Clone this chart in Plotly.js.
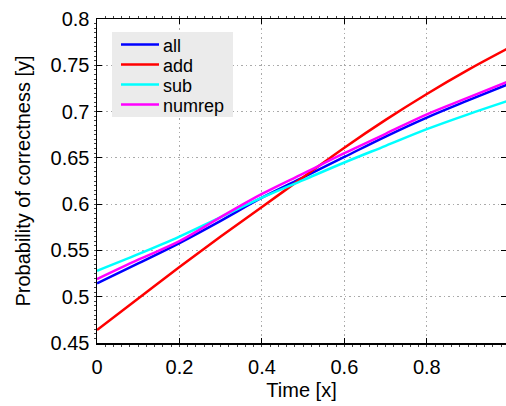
<!DOCTYPE html>
<html>
<head>
<meta charset="utf-8">
<script src="https://cdn.plot.ly/plotly-3.0.1.min.js"></script>
<style>html,body{margin:0;padding:0;background:#fff;}#chart{width:506px;height:406px;}</style>
</head>
<body>
<div id="chart"></div>
<script>
const timeX = [0, 0.1, 0.2, 0.3, 0.4, 0.5, 0.6, 0.7, 0.8, 0.9, 1.0];
const allY    = [0.5145, 0.536, 0.558, 0.582, 0.607, 0.629, 0.651, 0.673, 0.6935, 0.712, 0.730];
const addY    = [0.464, 0.498, 0.532, 0.565, 0.597, 0.629, 0.661, 0.691, 0.719, 0.745, 0.769];
const subY    = [0.528, 0.546, 0.565, 0.586, 0.607, 0.626, 0.645, 0.663, 0.681, 0.697, 0.712];
const numrepY = [0.519, 0.540, 0.560, 0.586, 0.611, 0.633, 0.655, 0.676, 0.697, 0.715, 0.733];
const xTicks = [0, 0.2, 0.4, 0.6, 0.8, 1];
const xTickText = ['0', '0.2', '0.4', '0.6', '0.8', '1'];
const yTicks = [0.45, 0.5, 0.55, 0.6, 0.65, 0.7, 0.75, 0.8];
const yTickText = ['0.45', '0.5', '0.55', '0.6', '0.65', '0.7', '0.75', '0.8'];
const seriesNames = ['all', 'add', 'sub', 'numrep'];
const seriesColors = ['#0000ff', '#ff0000', '#00ffff', '#ff00ff'];
const seriesData = [allY, addY, subY, numrepY];

const FONT = 'Liberation Sans, Arial, Helvetica, sans-serif';

const traces = seriesData.map((ys, i) => ({
  x: timeX, y: ys, type: 'scatter', mode: 'lines', name: seriesNames[i],
  line: {color: seriesColors[i], width: 2.5, shape: 'spline'}
}));

const axisCommon = {
  showline: true, linecolor: '#000', linewidth: 1.5, mirror: 'ticks',
  ticks: 'inside', ticklen: 5, tickcolor: '#000', tickwidth: 1,
  showgrid: true, gridcolor: '#aaaaaa', griddash: '1.5px,3px', gridwidth: 1,
  zeroline: false,
  tickfont: {family: FONT, size: 20, color: '#000'}
};

const layout = {
  width: 506, height: 406,
  margin: {l: 97, r: 0, t: 19, b: 63},
  paper_bgcolor: '#fff', plot_bgcolor: '#fff',
  font: {family: FONT, size: 20, color: '#000'},
  showlegend: true,
  legend: {x: 0.037, y: 0.96, xanchor: 'left', yanchor: 'top', bgcolor: '#ebebeb',
           borderwidth: 0, font: {family: FONT, size: 18, color: '#000'}, tracegroupgap: 0},
  xaxis: Object.assign({}, axisCommon, {
    range: [0, 0.992], tickvals: xTicks, ticktext: xTickText,
    ticklabelstandoff: 5,
    title: {text: 'Time [x]', font: {family: FONT, size: 20}, standoff: 6},
    minor: {dtick: 0.02, ticks: 'outside', ticklen: 2, tickcolor: '#444', showgrid: false}
  }),
  yaxis: Object.assign({}, axisCommon, {
    range: [0.45, 0.8], tickvals: yTicks, ticktext: yTickText,
    ticklabelstandoff: 2,
    title: {text: 'Probability of correctness [y]', font: {family: FONT, size: 20}, standoff: 14},
    minor: {dtick: 0.005, ticks: 'outside', ticklen: 2, tickcolor: '#444', showgrid: false}
  })
};

Plotly.newPlot('chart', traces, layout, {displayModeBar: false, staticPlot: true}).then(gd => {
  // tighten legend rows to match the compact reference legend
  const leg = gd.querySelector('.legend');
  if (!leg) return;
  leg.setAttribute('transform', 'translate(112,32)');
  const bg = leg.querySelector('rect.bg');
  if (bg) { bg.setAttribute('width', 121); bg.setAttribute('height', 85); bg.setAttribute('x', 0); bg.setAttribute('y', 0); }
  const sb = leg.querySelector('.scrollbox');
  if (sb) { sb.setAttribute('transform', 'translate(0,0)'); sb.removeAttribute('clip-path'); }
  leg.querySelectorAll('rect.legendtoggle, rect.scrollbar').forEach(r => r.remove());
  const rowCenters = [12.5, 32.5, 52.5, 72.5];
  leg.querySelectorAll('g.traces').forEach((g, i) => {
    g.setAttribute('transform', 'translate(0,' + rowCenters[i] + ')');
    const p = g.querySelector('path.js-line');
    if (p) p.setAttribute('d', 'M9,0h38');
    const t = g.querySelector('text.legendtext');
    if (t) {
      t.setAttribute('x', 51);
      t.querySelectorAll('tspan').forEach(s => { if (s.hasAttribute('x')) s.setAttribute('x', 51); });
    }
  });
});
</script>
</body>
</html>
